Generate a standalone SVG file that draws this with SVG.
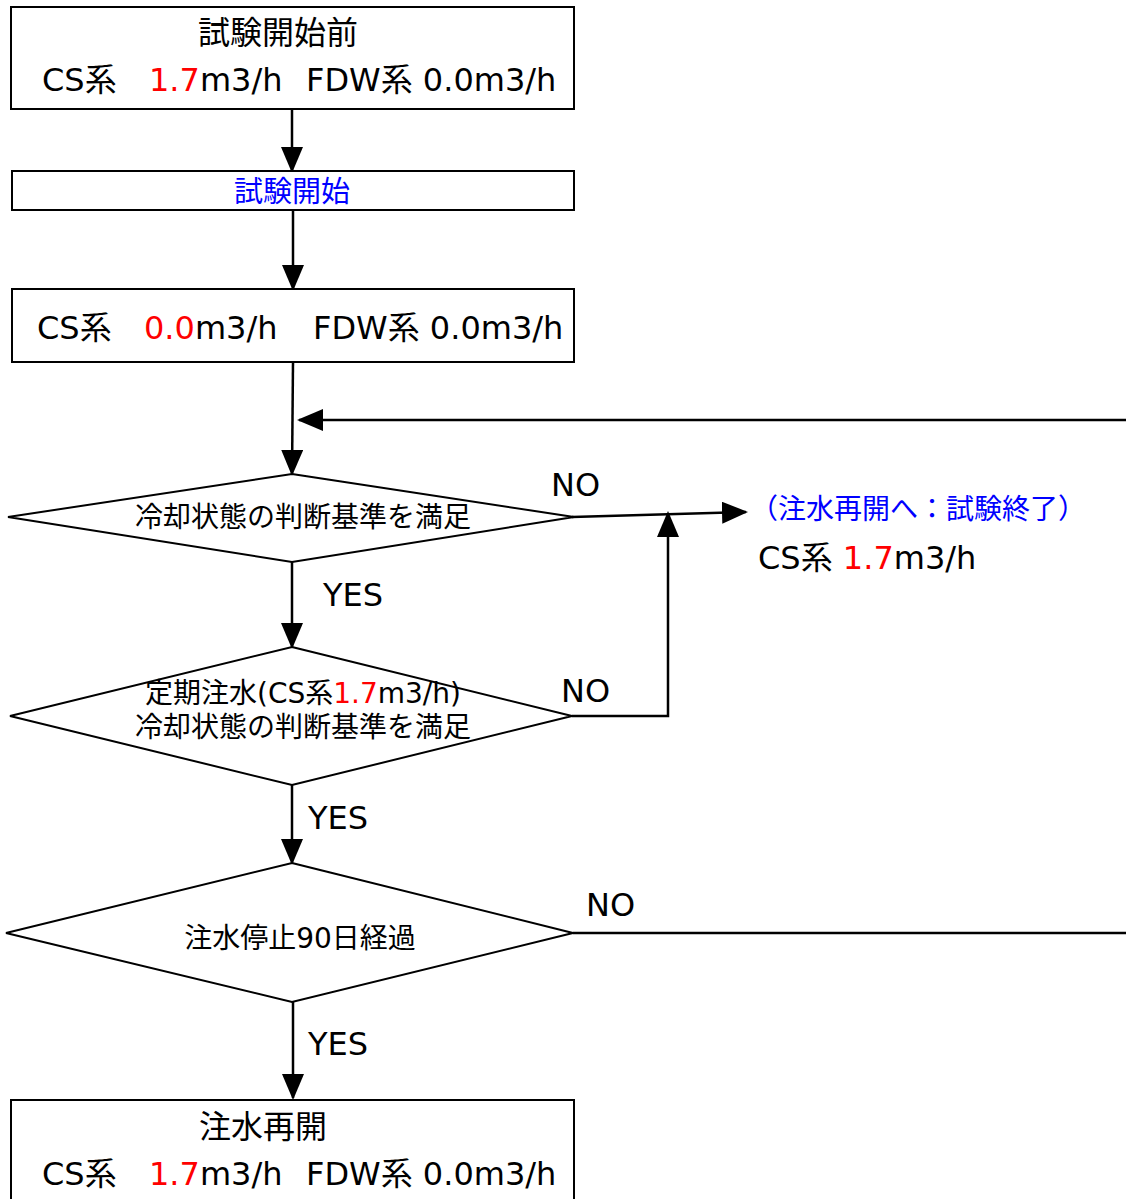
<svg xmlns="http://www.w3.org/2000/svg" width="1126" height="1199" viewBox="0 0 1126 1199">
<defs>
<style>
text{font-family:"DejaVu Sans","Noto Sans CJK JP",sans-serif;fill:#000}
.box{fill:#fff;stroke:#000;stroke-width:2}
.ln{fill:none;stroke:#000;stroke-width:2.5}
.big{font-size:32px}
.mid{font-size:28px}
.red{fill:#ff0000}
.blue{fill:#0000ff}
</style>
<marker id="ahb" markerWidth="26" markerHeight="22" refX="24" refY="11" orient="auto" markerUnits="userSpaceOnUse" viewBox="0 0 26 22">
<path d="M0,0 L26,11 L0,22 Z" fill="#000"/>
</marker>
</defs>
<rect width="1126" height="1199" fill="#fff"/>

<g id="connectors">
<line class="ln" x1="292" y1="109" x2="292" y2="171" marker-end="url(#ahb)"/>
<line class="ln" x1="293" y1="210" x2="293" y2="289" marker-end="url(#ahb)"/>
<line class="ln" x1="293" y1="362" x2="292" y2="474" marker-end="url(#ahb)"/>
<line class="ln" x1="1126" y1="420" x2="299" y2="420" marker-end="url(#ahb)"/>
<line class="ln" x1="572" y1="517" x2="746" y2="512" marker-end="url(#ahb)"/>
<polyline class="ln" points="572,716 668,716 668,513" marker-end="url(#ahb)"/>
<line class="ln" x1="292" y1="562" x2="292" y2="647" marker-end="url(#ahb)"/>
<line class="ln" x1="292" y1="785" x2="292" y2="863" marker-end="url(#ahb)"/>
<line class="ln" x1="573" y1="933" x2="1126" y2="933"/>
<line class="ln" x1="293" y1="1002" x2="293" y2="1098" marker-end="url(#ahb)"/>
<text class="big" x="551" y="496">NO</text>
<text class="big" x="323" y="606">YES</text>
<text class="big" x="561" y="702">NO</text>
<text class="big" x="308" y="829">YES</text>
<text class="big" x="586" y="916">NO</text>
<text class="big" x="308" y="1055">YES</text>
</g>

<g id="n1">
<rect class="box" x="11" y="7" width="563" height="102"/>
<text class="big" x="278" y="44" text-anchor="middle">試験開始前</text>
<text class="big" y="91"><tspan x="42">CS系</tspan><tspan x="149" class="red">1.7</tspan><tspan>m3/h</tspan><tspan x="306">FDW系 0.0m3/h</tspan></text>
</g>

<g id="n2">
<rect class="box" x="12" y="171" width="562" height="39"/>
<text class="blue" x="292" y="202" text-anchor="middle" style="font-size:29px">試験開始</text>
</g>

<g id="n3">
<rect class="box" x="12" y="289" width="562" height="73"/>
<text class="big" y="339"><tspan x="37">CS系</tspan><tspan x="144" class="red">0.0</tspan><tspan>m3/h</tspan><tspan x="313">FDW系 0.0m3/h</tspan></text>
</g>

<g id="d1">
<polygon class="box" points="292,474 574,517 292,562 8,517"/>
<text class="mid" x="303" y="527" text-anchor="middle">冷却状態の判断基準を満足</text>
</g>

<g id="end1">
<text class="blue" x="750" y="519" style="font-size:28px">（注水再開へ：試験終了）</text>
<text class="big" x="758" y="569">CS系 <tspan class="red">1.7</tspan>m3/h</text>
</g>

<g id="d2">
<polygon class="box" points="292,647 572,716 292,785 10,716"/>
<text class="mid" x="303" y="703" text-anchor="middle">定期注水(CS系<tspan class="red">1.7</tspan>m3/h)</text>
<text class="mid" x="303" y="737" text-anchor="middle">冷却状態の判断基準を満足</text>
</g>

<g id="d3">
<polygon class="box" points="292,863 573,933 292,1002 6,933"/>
<text class="mid" x="300" y="948" text-anchor="middle">注水停止90日経過</text>
</g>

<g id="n4">
<rect class="box" x="11" y="1100" width="563" height="110"/>
<text class="big" x="199" y="1138">注水再開</text>
<text class="big" y="1185"><tspan x="42">CS系</tspan><tspan x="149" class="red">1.7</tspan><tspan>m3/h</tspan><tspan x="306">FDW系 0.0m3/h</tspan></text>
</g>
</svg>
